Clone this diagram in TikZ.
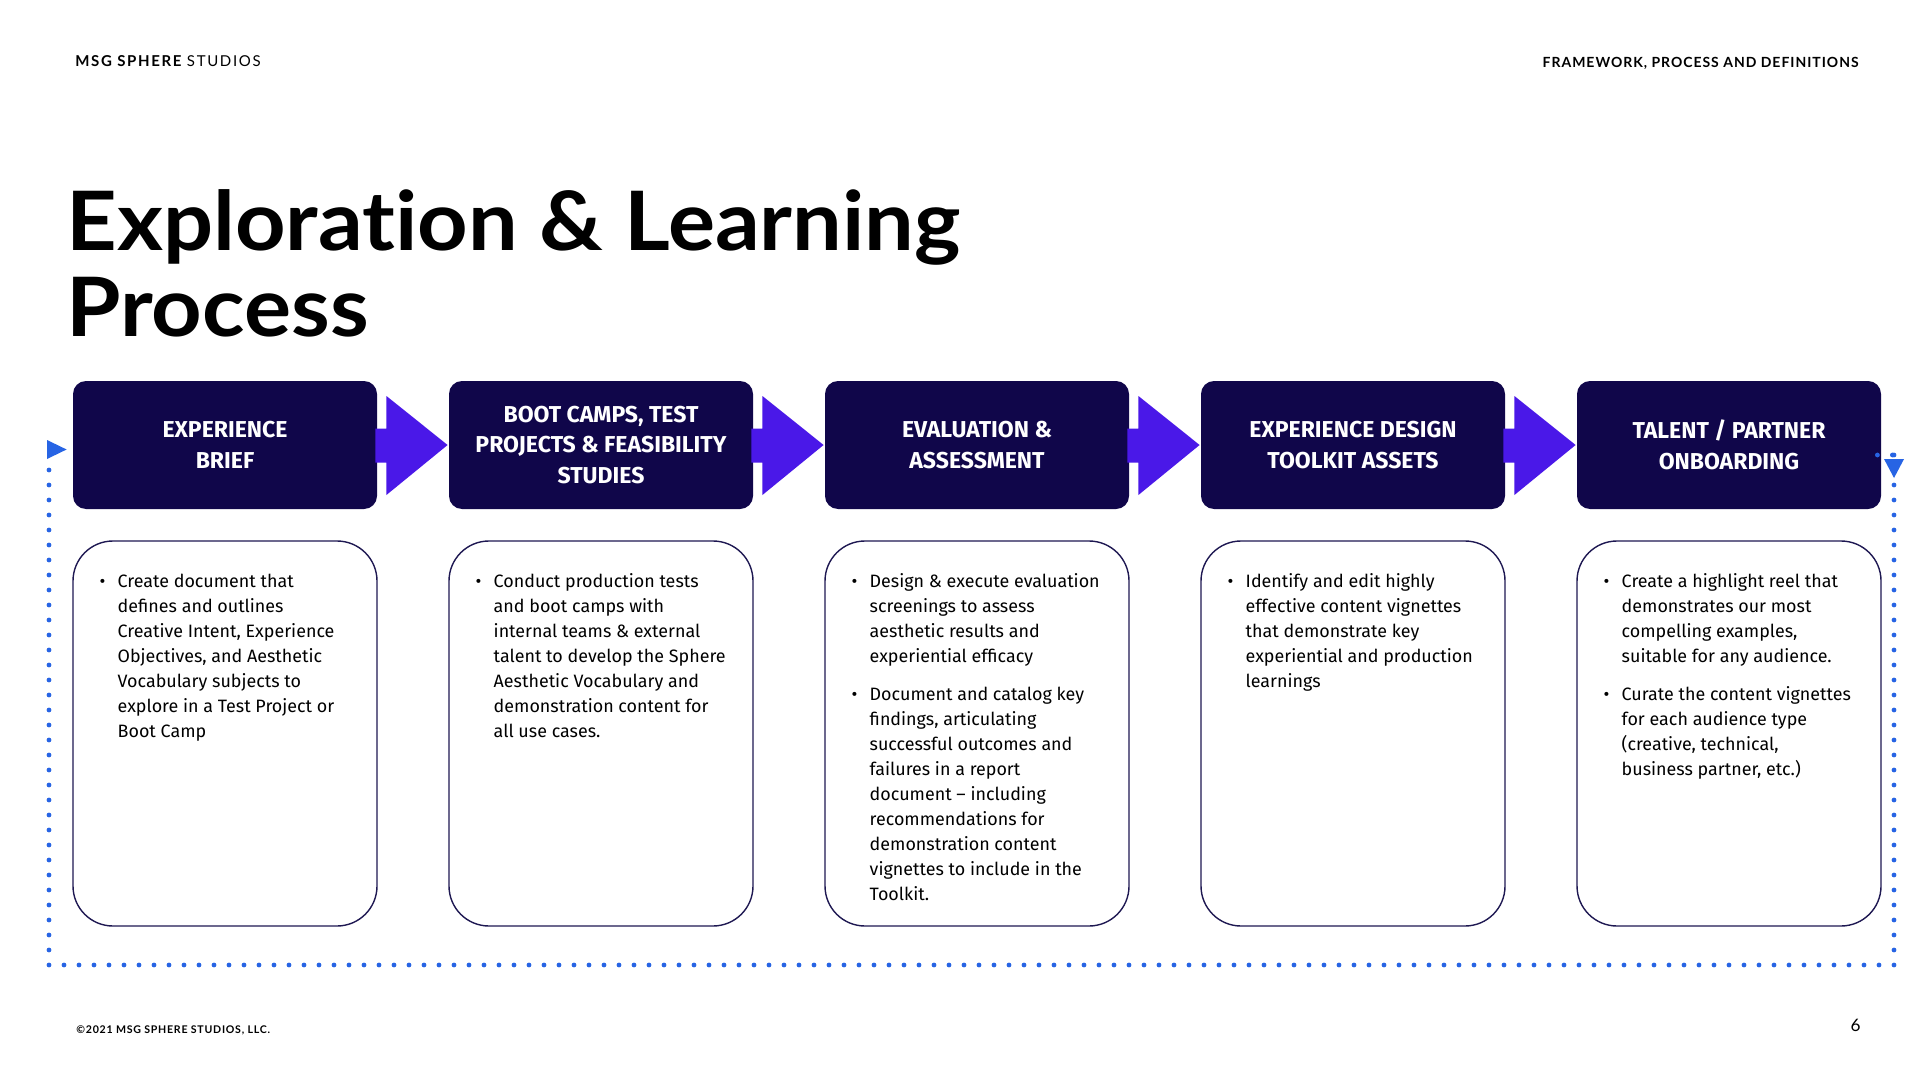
\documentclass[tikz,border=0pt]{standalone}
\usepackage{fontspec}
\setmainfont{Fira Sans}
\newfontfamily\titlefont[Ligatures=CommonOff, FakeStretch=1.075]{Lato}
\newfontfamily\numfont{Lato}
\newfontfamily\capsfont[LetterSpace=11]{Lato}
\newfontfamily\secfont[LetterSpace=7]{Lato}
\newfontfamily\footfont[LetterSpace=7]{Lato}
\usetikzlibrary{calc}
\definecolor{navy}{HTML}{10064A}
\definecolor{violet}{HTML}{4A18E8}
\definecolor{dotblue}{HTML}{2764E4}
\definecolor{boxline}{HTML}{1E1852}
\tikzset{
  topbox/.style={fill=navy, rounded corners=6.5pt, minimum width=152pt, minimum height=64pt, inner sep=0pt, text=white, align=center, font=\fontsize{11.5pt}{15.3pt}\selectfont\bfseries},
  lowbox/.style={draw=boxline, line width=0.7pt, rounded corners=20pt, minimum width=152pt, minimum height=192.5pt, inner sep=0pt},
  bodytext/.style={anchor=base west, inner sep=0pt, font=\fontsize{8.95pt}{12.5pt}\selectfont},
  flow/.style={fill=violet},
  loopdots/.style={draw=dotblue, line width=2.4pt, line cap=round, dash pattern=on 0pt off 7.5pt},
  looptip/.style={fill=dotblue},
  hdr/.style={inner sep=0pt, font=\capsfont\fontsize{7.5pt}{9pt}\selectfont},
  sec/.style={inner sep=0pt, font=\secfont\fontsize{7pt}{9pt}\selectfont}
}
\newcommand{\btext}[1]{\parbox[t]{170pt}{\raggedright #1}}
\begin{document}
\begin{tikzpicture}[x=0.5pt,y=-0.5pt]
\useasboundingbox (0,0) rectangle (1920,1080);
\fill[white] (0,0) rectangle (1920,1080);

% header
\node[hdr, anchor=base west] (brand) at (75,67) {\bfseries MSG SPHERE\mdseries\ STUDIOS};
\node[sec, anchor=base east] (section) at (1859,68) {\bfseries FRAMEWORK, PROCESS AND DEFINITIONS};

% title
\node[anchor=base west, inner sep=0pt, font=\titlefont\bfseries\fontsize{41pt}{43pt}\selectfont] (title) at (66,251)
  {\parbox[t]{800pt}{Exploration \& Learning\\Process}};

% top boxes
\node[topbox] (h1) at (225,445) {EXPERIENCE\\BRIEF};
\node[topbox] (h2) at (601,445) {BOOT CAMPS, TEST\\PROJECTS \& FEASIBILITY\\STUDIES};
\node[topbox] (h3) at (977,445) {EVALUATION \&\\ASSESSMENT};
\node[topbox] (h4) at (1353,445) {EXPERIENCE DESIGN\\TOOLKIT ASSETS};
\node[topbox] (h5) at (1729,445) {TALENT / PARTNER\\ONBOARDING};

% flow arrows
\foreach \a/\b in {h1/h2,h2/h3,h3/h4,h4/h5}{
  \fill[flow] ($(\a.east)+(-2,-16.5)$) -- ($(\a.east)+(9,-16.5)$) -- ($(\a.east)+(9,-49)$)
     -- ($(\b.west)+(-1,0)$) -- ($(\a.east)+(9,50)$) -- ($(\a.east)+(9,17.5)$)
     -- ($(\a.east)+(-2,17.5)$) -- cycle;
}

% lower boxes
\node[lowbox] (l1) at (225,733.5) {};
\node[lowbox] (l2) at (601,733.5) {};
\node[lowbox] (l3) at (977,733.5) {};
\node[lowbox] (l4) at (1353,733.5) {};
\node[lowbox] (l5) at (1729,733.5) {};

% bullets and texts
\node[bodytext] (b1a) at ($(l1.north west)+(27,47)$) {•};
\node[bodytext] (t1a) at ($(l1.north west)+(45,47)$) {\btext{Create document that\\defines and outlines\\Creative Intent, Experience\\Objectives, and Aesthetic\\Vocabulary subjects to\\explore in a Test Project or\\Boot Camp}};

\node[bodytext] (b2a) at ($(l2.north west)+(27,47)$) {•};
\node[bodytext] (t2a) at ($(l2.north west)+(45,47)$) {\btext{Conduct production tests\\and boot camps with\\internal teams \& external\\talent to develop the Sphere\\Aesthetic Vocabulary and\\demonstration content for\\all use cases.}};

\node[bodytext] (b3a) at ($(l3.north west)+(27,47)$) {•};
\node[bodytext] (t3a) at ($(l3.north west)+(45,47)$) {\btext{Design \& execute evaluation\\screenings to assess\\aesthetic results and\\experiential efficacy}};
\node[bodytext] (b3b) at ($(l3.north west)+(27,160)$) {•};
\node[bodytext] (t3b) at ($(l3.north west)+(45,160)$) {\btext{Document and catalog key\\findings, articulating\\successful outcomes and\\failures in a report\\document – including\\recommendations for\\demonstration content\\vignettes to include in the\\Toolkit.}};

\node[bodytext] (b4a) at ($(l4.north west)+(27,47)$) {•};
\node[bodytext] (t4a) at ($(l4.north west)+(45,47)$) {\btext{Identify and edit highly\\effective content vignettes\\that demonstrate key\\experiential and production\\learnings}};

\node[bodytext] (b5a) at ($(l5.north west)+(27,47)$) {•};
\node[bodytext] (t5a) at ($(l5.north west)+(45,47)$) {\btext{Create a highlight reel that\\demonstrates our most\\compelling examples,\\suitable for any audience.}};
\node[bodytext] (b5b) at ($(l5.north west)+(27,160)$) {•};
\node[bodytext] (t5b) at ($(l5.north west)+(45,160)$) {\btext{Curate the content vignettes\\for each audience type\\(creative, technical,\\business partner, etc.)}};

% dotted loop
\coordinate (r1) at (1894,455);
\coordinate (r2) at (1894,965);
\coordinate (q2) at (49,965);
\coordinate (q1) at (49,455);
\draw[loopdots] ([xshift=-2pt]h5.east |- r1) -- (r1);
\draw[loopdots] (r1) -- (r2) -- (q2) -- (q1);
\fill[looptip] ($(r1)+(-10,4)$) -- ($(r1)+(10,4)$) -- ($(r1)+(0,23)$) -- cycle;
\fill[looptip] ($(q1)+(-2,-15)$) -- ($(h1.west)+(-6,4.5)$) -- ($(q1)+(-2,4)$) -- cycle;

% footer
\node[inner sep=0pt, anchor=base west, font=\footfont\bfseries\fontsize{5.3pt}{7pt}\selectfont] (copy) at (76,1033) {©2021 MSG SPHERE STUDIOS, LLC.};
\node[inner sep=0pt, anchor=base east, font=\numfont\fontsize{8.6pt}{10pt}\selectfont] (page) at (1861,1031) {6};
\end{tikzpicture}
\end{document}
